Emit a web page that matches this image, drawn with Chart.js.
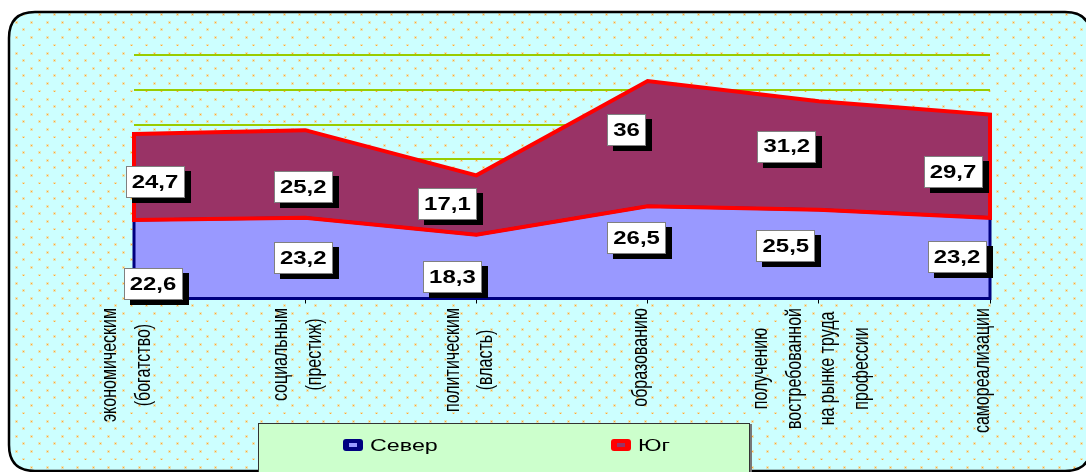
<!DOCTYPE html>
<html lang="ru">
<head>
<meta charset="utf-8">
<title>Север / Юг</title>
<script src="https://cdn.jsdelivr.net/npm/chart.js@4/dist/chart.umd.min.js"></script>
<style>
  html, body { margin: 0; padding: 0; background: #fff; }
  #wrap { width: 1086px; height: 472px; }
</style>
</head>
<body>
<div id="wrap"><canvas id="chart" width="1086" height="472"></canvas></div>
<script>
// --- Данные ---
const categories = [
    ['экономическим', '(богатство)'],
    ['социальным', '(престиж)'],
    ['политическим', '(власть)'],
    ['образованию'],
    ['получению', 'востребованной', 'на рынке труда', 'профессии'],
    ['самореализации']
];
const seriesNames = ['Север', 'Юг'];
const sever = [22.6, 23.2, 18.3, 26.5, 25.5, 23.2];
const yug = [24.7, 25.2, 17.1, 36, 31.2, 29.7];
const yTicks = [0, 10, 20, 30, 40, 50, 60, 70];

// --- Стили ---
const fillColors = ['#9999ff', '#993366'];
const edgeColors = ['#000080', '#ff0000'];
const edgeWidths = [3, 4];
const stretch = 1.33; // текст в оригинале растянут по горизонтали
// сдвиги подписей (px) относительно середины полосы, как в исходнике
const labelShift = [
    [[19, 25], [-2, 0], [-24, 10], [-11, -14], [-33, -8], [-33, -1]],
    [[21, 5], [-2, 13], [-29, -1], [-21, -14], [-32, -9], [-37, 6]]
];

const fmt = v => String(v).replace('.', ',');

function roundRect(ctx, x, y, w, h, r) {
    ctx.beginPath();
    ctx.moveTo(x + r, y);
    ctx.lineTo(x + w - r, y);
    ctx.quadraticCurveTo(x + w, y, x + w, y + r);
    ctx.lineTo(x + w, y + h - r);
    ctx.quadraticCurveTo(x + w, y + h, x + w - r, y + h);
    ctx.lineTo(x + r, y + h);
    ctx.quadraticCurveTo(x, y + h, x, y + h - r);
    ctx.lineTo(x, y + r);
    ctx.quadraticCurveTo(x, y, x + r, y);
    ctx.closePath();
}

// фон с точками
function makeDots() {
    const tile = document.createElement('canvas');
    tile.width = 46; tile.height = 46;
    const t = tile.getContext('2d');
    t.fillStyle = '#ccffff';
    t.fillRect(0, 0, 46, 46);
    const step = 46 / 3;
    const dot = (x, y) => {
        x = ((x % 46) + 46) % 46; y = ((y % 46) + 46) % 46;
        t.fillStyle = 'rgba(255, 200, 110, 0.45)';
        t.fillRect(Math.round(x) - 1, Math.round(y) - 1, 3, 3);
        t.fillStyle = '#ffa630';
        t.fillRect(Math.round(x), Math.round(y), 1, 1);
    };
    for (let i = 0; i < 3; i++) {
        for (let j = 0; j < 3; j++) {
            dot(8 + i * step, 14 + j * step);
            dot(0.5 + i * step, 6.5 + j * step);
        }
    }
    return tile;
}

const backgroundPlugin = {
    id: 'backgroundPlugin',
    beforeDraw(chart) {
        const ctx = chart.ctx;
        ctx.save();
        ctx.fillStyle = '#fff';
        ctx.fillRect(0, 0, chart.width, chart.height);
        roundRect(ctx, 9, 12, 1082, 459, 26);
        ctx.fillStyle = ctx.createPattern(makeDots(), 'repeat');
        ctx.fill();
        ctx.lineWidth = 2.5;
        ctx.strokeStyle = '#000';
        ctx.stroke();
        ctx.restore();
    }
};

// контуры областей, подписи значений, подписи категорий, легенда
const decorPlugin = {
    id: 'decorPlugin',
    afterDatasetsDraw(chart) {
        const ctx = chart.ctx;
        const yScale = chart.scales.y;
        const base = yScale.getPixelForValue(0);
        const metas = chart.data.datasets.map((d, i) => chart.getDatasetMeta(i));

        // контуры
        metas.forEach((meta, i) => {
            const top = meta.data;
            const bottom = i === 0 ? top.map(p => ({ x: p.x, y: base })) : metas[i - 1].data;
            ctx.save();
            ctx.beginPath();
            top.forEach((p, k) => k ? ctx.lineTo(p.x, p.y) : ctx.moveTo(p.x, p.y));
            for (let k = bottom.length - 1; k >= 0; k--) ctx.lineTo(bottom[k].x, bottom[k].y);
            ctx.closePath();
            ctx.lineJoin = 'miter';
            ctx.lineWidth = edgeWidths[i];
            ctx.strokeStyle = edgeColors[i];
            ctx.stroke();
            ctx.restore();
        });

        // подписи значений
        ctx.save();
        ctx.font = 'bold 18px "Liberation Sans", Arial, sans-serif';
        metas.forEach((meta, i) => {
            const values = chart.data.datasets[i].data;
            meta.data.forEach((p, k) => {
                const yBottom = i === 0 ? base : metas[i - 1].data[k].y;
                const txt = fmt(values[k]);
                const tw = ctx.measureText(txt).width * stretch;
                const w = Math.round(tw + 12), h = 32;
                const cx = p.x + labelShift[i][k][0];
                const cy = (p.y + yBottom) / 2 + labelShift[i][k][1];
                const x = Math.round(cx - w / 2), y = Math.round(cy - h / 2);
                ctx.fillStyle = '#000';
                ctx.fillRect(x + 6, y + 5, w, h);
                ctx.fillStyle = '#fff';
                ctx.fillRect(x, y, w, h);
                ctx.strokeStyle = '#808080';
                ctx.lineWidth = 1;
                ctx.strokeRect(x + 0.5, y + 0.5, w - 1, h - 1);
                ctx.save();
                ctx.translate(cx, cy + 1);
                ctx.scale(stretch, 1);
                ctx.fillStyle = '#000';
                ctx.textAlign = 'center';
                ctx.textBaseline = 'middle';
                ctx.fillText(txt, 0, 0);
                ctx.restore();
            });
        });
        ctx.restore();
    },
    afterDraw(chart) {
        const ctx = chart.ctx;
        const xScale = chart.scales.x;

        // подписи категорий (повернуты на 90°)
        ctx.save();
        ctx.font = '16px "Liberation Sans", Arial, sans-serif';
        ctx.fillStyle = '#000';
        ctx.textAlign = 'center';
        ctx.textBaseline = 'middle';
        const lineGap = 33.5;
        categories.forEach((lines, k) => {
            const px = xScale.getPixelForValue(k) - 7;
            const maxW = Math.max(...lines.map(l => ctx.measureText(l).width));
            const cy = 308 + maxW / 2;
            lines.forEach((line, n) => {
                const lx = px + (n - (lines.length - 1) / 2) * lineGap;
                ctx.save();
                ctx.translate(lx, cy);
                ctx.scale(1.35, 1);
                ctx.rotate(-Math.PI / 2);
                ctx.fillText(line, 0, 0);
                ctx.restore();
            });
        });
        ctx.restore();

        // легенда
        ctx.save();
        ctx.fillStyle = '#ccffcc';
        ctx.fillRect(258.5, 423.5, 491, 60);
        ctx.strokeStyle = '#333';
        ctx.lineWidth = 1;
        ctx.strokeRect(258.5, 423.5, 491, 60);
        ctx.strokeStyle = '#777';
        ctx.lineWidth = 2;
        ctx.beginPath();
        ctx.moveTo(751, 424); ctx.lineTo(751, 472);
        ctx.stroke();
        const itemX = [343, 611];
        ctx.font = '17px "Liberation Sans", Arial, sans-serif';
        ctx.textBaseline = 'middle';
        chart.data.datasets.forEach((ds, i) => {
            const x = itemX[i];
            roundRect(ctx, x, 439, 20, 12, 3);
            ctx.fillStyle = edgeColors[i];
            ctx.fill();
            ctx.fillStyle = fillColors[i];
            ctx.fillRect(x + 6, 443, 8, 4);
            ctx.save();
            ctx.translate(x + 27, 446);
            ctx.scale(1.37, 1);
            ctx.fillStyle = '#000';
            ctx.fillText(ds.label, 0, 0);
            ctx.restore();
        });
        ctx.restore();
    }
};

new Chart(document.getElementById('chart'), {
    type: 'line',
    data: {
        labels: categories,
        datasets: [
            {
                label: seriesNames[0],
                data: sever,
                backgroundColor: fillColors[0],
                borderColor: 'transparent',
                borderWidth: 0,
                pointRadius: 0,
                fill: 'origin'
            },
            {
                label: seriesNames[1],
                data: yug,
                backgroundColor: fillColors[1],
                borderColor: 'transparent',
                borderWidth: 0,
                pointRadius: 0,
                fill: '-1'
            }
        ]
    },
    options: {
        responsive: false,
        animation: false,
        layout: { padding: { left: 134, right: 96, top: 55, bottom: 173.5 } },
        scales: {
            x: {
                offset: false,
                afterFit: s => { s.height = 0; },
                ticks: { display: false },
                border: { display: false },
                grid: { drawOnChartArea: false, drawTicks: true, tickLength: 5, color: '#000', lineWidth: 1 }
            },
            y: {
                stacked: true,
                min: yTicks[0],
                max: yTicks[yTicks.length - 1],
                afterFit: s => { s.width = 0; },
                afterBuildTicks: s => { s.ticks = yTicks.map(v => ({ value: v })); },
                ticks: { display: false },
                border: { display: false },
                grid: { color: '#99cc00', lineWidth: 2, drawTicks: false }
            }
        },
        plugins: {
            legend: { display: false },
            tooltip: { enabled: false }
        }
    },
    plugins: [backgroundPlugin, decorPlugin]
});
</script>
</body>
</html>
